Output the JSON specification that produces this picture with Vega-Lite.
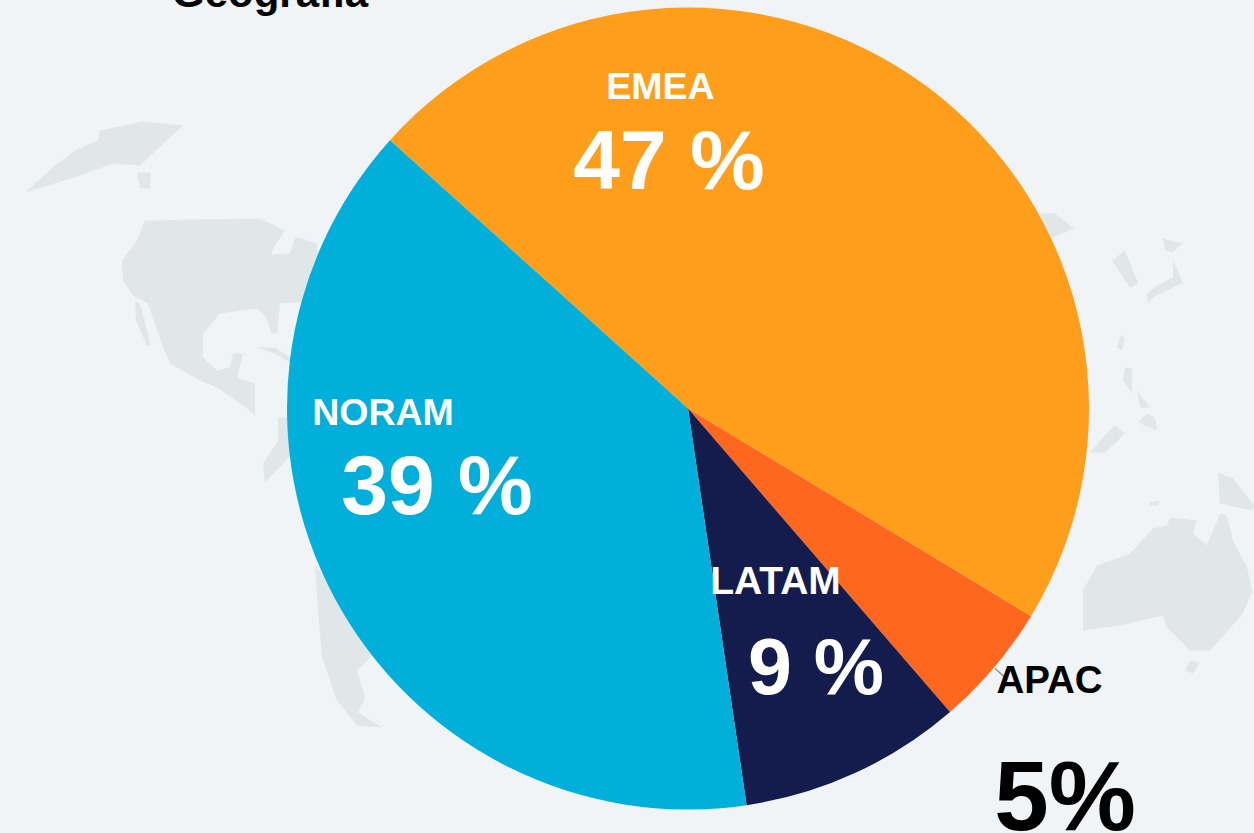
{
"$schema":"https://vega.github.io/schema/vega-lite/v6.json",
"width":800,"height":800,
"autosize":"none",
"padding":{"left":288,"top":8.5,"right":166,"bottom":24.5},
"background":"#f0f4f7",
"view":{"stroke":null},
"data":{"values":[
{"region":"EMEA","share":47,"rank":1,"label":"47 %"},
{"region":"APAC","share":5,"rank":2,"label":"5%"},
{"region":"LATAM","share":9,"rank":3,"label":"9 %"},
{"region":"NORAM","share":39,"rank":4,"label":"39 %"}
]},
"layer":[
{"data":{"values":[
{"type":"Feature","properties":{"name":"Greenland"},"geometry":{"type":"Polygon","coordinates":[[[-588,278],[-545,287],[-505,283],[-525,265],[-548,243],[-575,245],[-608,233],[-663,216],[-633,243],[-613,258],[-590,268],[-588,278]]]}},
{"type":"Feature","properties":{"name":"Iceland"},"geometry":{"type":"Polygon","coordinates":[[[-551,236],[-537,236],[-538,220],[-548,220],[-551,236]]]}},
{"type":"Feature","properties":{"name":"North America"},"geometry":{"type":"Polygon","coordinates":[[[-543,188],[-428,190],[-403,178],[-416,158],[-416,154],[-398,155],[-393,172],[-371,165],[-368,108],[-408,105],[-411,75],[-416,75],[-423,93],[-431,100],[-468,95],[-485,75],[-485,51],[-471,38],[-458,41],[-455,55],[-445,55],[-451,31],[-433,25],[-433,-7],[-441,0],[-471,21],[-488,28],[-518,45],[-525,61],[-540,105],[-555,113],[-565,128],[-566,148],[-551,168],[-543,188]]]}},
{"type":"Feature","properties":{"name":"Baja"},"geometry":{"type":"Polygon","coordinates":[[[-553,108],[-548,105],[-537,63],[-541,63],[-552,88],[-553,108]]]}},
{"type":"Feature","properties":{"name":"Cuba"},"geometry":{"type":"Polygon","coordinates":[[[-431,61],[-413,61],[-396,50],[-398,46],[-416,56],[-431,61]]]}},
{"type":"Feature","properties":{"name":"South America north"},"geometry":{"type":"Polygon","coordinates":[[[-410,-9],[-393,-9],[-393,-42],[-423,-74],[-425,-55],[-410,-32],[-410,-9]]]}},
{"type":"Feature","properties":{"name":"South America south"},"geometry":{"type":"Polygon","coordinates":[[[-373,-157],[-343,-192],[-316,-247],[-331,-262],[-323,-289],[-330,-304],[-306,-319],[-331,-317],[-351,-292],[-366,-249],[-370,-202],[-373,-157]]]}},
{"type":"Feature","properties":{"name":"China"},"geometry":{"type":"Polygon","coordinates":[[[352,195],[367,195],[386,180],[364,171],[352,168],[352,195]]]}},
{"type":"Feature","properties":{"name":"Korea"},"geometry":{"type":"Polygon","coordinates":[[[424,148],[437,158],[450,125],[442,121],[424,148]]]}},
{"type":"Feature","properties":{"name":"Hokkaido"},"geometry":{"type":"Polygon","coordinates":[[[475,170],[495,165],[484,156],[477,158],[475,170]]]}},
{"type":"Feature","properties":{"name":"Honshu"},"geometry":{"type":"Polygon","coordinates":[[[485,148],[495,126],[465,111],[460,105],[459,115],[469,123],[485,131],[485,148]]]}},
{"type":"Feature","properties":{"name":"Taiwan"},"geometry":{"type":"Polygon","coordinates":[[[432,73],[437,71],[434,58],[429,61],[432,73]]]}},
{"type":"Feature","properties":{"name":"Luzon"},"geometry":{"type":"Polygon","coordinates":[[[437,41],[444,40],[444,15],[435,28],[437,41]]]}},
{"type":"Feature","properties":{"name":"Mindanao"},"geometry":{"type":"Polygon","coordinates":[[[459,-5],[467,-9],[469,-22],[450,-14],[459,-5]]]}},
{"type":"Feature","properties":{"name":"Visayas"},"geometry":{"type":"Polygon","coordinates":[[[449,18],[462,1],[452,1],[449,18]]]}},
{"type":"Feature","properties":{"name":"Borneo"},"geometry":{"type":"Polygon","coordinates":[[[427,-17],[437,-25],[417,-44],[402,-44],[417,-27],[427,-17]]]}},
{"type":"Feature","properties":{"name":"New Guinea"},"geometry":{"type":"Polygon","coordinates":[[[530,-64],[545,-70],[566,-97],[564,-102],[532,-95],[530,-64]]]}},
{"type":"Feature","properties":{"name":"Australia"},"geometry":{"type":"Polygon","coordinates":[[[395,-182],[409,-157],[442,-145],[465,-120],[479,-117],[482,-109],[509,-112],[505,-125],[519,-137],[532,-105],[539,-107],[545,-132],[559,-159],[564,-182],[555,-205],[522,-242],[502,-242],[479,-219],[475,-207],[432,-217],[395,-222],[395,-182]]]}},
{"type":"Feature","properties":{"name":"Tasmania"},"geometry":{"type":"Polygon","coordinates":[[[502,-252],[512,-254],[505,-265],[497,-262],[502,-252]]]}},
{"type":"Feature","properties":{"name":"Timor"},"geometry":{"type":"Polygon","coordinates":[[[462,-94],[472,-92],[470,-97],[462,-97],[462,-94]]]}}
]},
"mark":{"type":"geoshape","fill":"#e1e6e9","stroke":null,"clip":false},
"projection":{"type":"identity","reflectY":true,"scale":1,"translate":[400,400]}},
{"data":{"values":[
{"type":"Feature","properties":{"name":"patch"},"geometry":{"type":"Polygon","coordinates":[[[-518,3],[-500,3],[-500,-17],[-518,-17],[-518,3]]]}}
]},
"mark":{"type":"geoshape","fill":"#ffffff","stroke":null},
"projection":{"type":"identity","reflectY":true,"scale":1,"translate":[400,400]}},
{"data":{"values":[
{"type":"Feature","properties":{"name":"patch inner"},"geometry":{"type":"Polygon","coordinates":[[[-515,0],[-503,-1],[-503,-14],[-515,-13],[-515,0]]]}}
]},
"mark":{"type":"geoshape","fill":"#dfe4e7","stroke":null},
"projection":{"type":"identity","reflectY":true,"scale":1,"translate":[400,400]}},
{"data":{"values":[
{"type":"Feature","properties":{"name":"leader"},"geometry":{"type":"LineString","coordinates":[[307,-260],[316,-268]]}}
]},
"mark":{"type":"geoshape","filled":false,"stroke":"#8a8f93","strokeWidth":1.5},
"projection":{"type":"identity","reflectY":true,"scale":1,"translate":[400,400]}},
{"mark":{"type":"arc","outerRadius":401,"stroke":null},
"encoding":{
"theta":{"field":"share","type":"quantitative","stack":true,"scale":{"domain":[0,100],"range":[-0.8378,5.4454]}},
"order":{"field":"rank","type":"quantitative"},
"color":{"field":"region","type":"nominal","legend":null,"scale":{"domain":["EMEA","APAC","LATAM","NORAM"],"range":["#ff9e1b","#ff671f","#141b4d","#00b0da"]}}
}},
{"transform":[{"filter":"datum.rank==1"}],"mark":{"type":"text","font":"Liberation Sans","fontWeight":"bold","fontSize":37.5,"color":"#ffffff","align":"center","baseline":"alphabetic","dx":-27.5,"dy":-310},"encoding":{"text":{"field":"region"}}},
{"transform":[{"filter":"datum.rank==1"}],"mark":{"type":"text","font":"Liberation Sans","fontWeight":"bold","fontSize":84,"color":"#ffffff","align":"center","baseline":"alphabetic","dx":-19,"dy":-219.5},"encoding":{"text":{"field":"label"}}},
{"transform":[{"filter":"datum.rank==4"}],"mark":{"type":"text","font":"Liberation Sans","fontWeight":"bold","fontSize":37.5,"color":"#ffffff","align":"center","baseline":"alphabetic","dx":-305,"dy":16.5},"encoding":{"text":{"field":"region"}}},
{"transform":[{"filter":"datum.rank==4"}],"mark":{"type":"text","font":"Liberation Sans","fontWeight":"bold","fontSize":84,"color":"#ffffff","align":"center","baseline":"alphabetic","dx":-251,"dy":105.5},"encoding":{"text":{"field":"label"}}},
{"transform":[{"filter":"datum.rank==3"}],"mark":{"type":"text","font":"Liberation Sans","fontWeight":"bold","fontSize":39,"color":"#ffffff","align":"center","baseline":"alphabetic","dx":87.5,"dy":185.5},"encoding":{"text":{"field":"region"}}},
{"transform":[{"filter":"datum.rank==3"}],"mark":{"type":"text","font":"Liberation Sans","fontWeight":"bold","fontSize":79,"color":"#ffffff","align":"center","baseline":"alphabetic","dx":128,"dy":285},"encoding":{"text":{"field":"label"}}},
{"transform":[{"filter":"datum.rank==2"}],"mark":{"type":"text","font":"Liberation Sans","fontWeight":"bold","fontSize":38.5,"color":"#000000","align":"center","baseline":"alphabetic","dx":361.5,"dy":284.5},"encoding":{"text":{"field":"region"}}},
{"transform":[{"filter":"datum.rank==2"}],"mark":{"type":"text","font":"Liberation Sans","fontWeight":"bold","fontSize":98,"color":"#000000","align":"center","baseline":"alphabetic","dx":377,"dy":421.5},"encoding":{"text":{"field":"label"}}},
{"data":{"values":[{"title":"Geografía"}]},"mark":{"type":"text","font":"Liberation Sans","fontWeight":"bold","fontSize":42,"color":"#000000","align":"center","baseline":"alphabetic","dx":-418,"dy":-401.5},"encoding":{"text":{"field":"title"}}}
]
}
